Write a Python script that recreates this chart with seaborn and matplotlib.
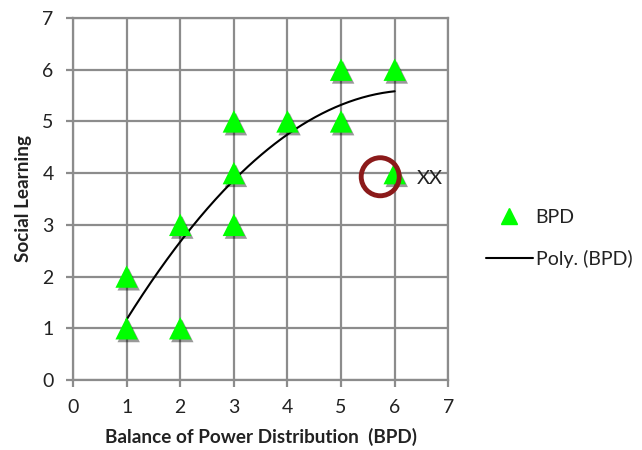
import numpy as np
import pandas as pd
import matplotlib
matplotlib.use("Agg")
import matplotlib.pyplot as plt
import matplotlib.patheffects as pe
from matplotlib.lines import Line2D
import seaborn as sns

# Data (overlapping markers at (6, 6) are repeated observations)
bpd = [1, 1, 2, 2, 3, 3, 3, 4, 5, 5, 6, 6, 6, 6]
social_learning = [1, 2, 1, 3, 3, 4, 5, 5, 5, 6, 6, 6, 6, 4]
x_ticks = [0, 1, 2, 3, 4, 5, 6, 7]
y_ticks = [0, 1, 2, 3, 4, 5, 6, 7]
circle_xy = (5.73, 3.93)
note_xy = (6.42, 3.9)
note_text = "XX"

df = pd.DataFrame({"BPD": bpd, "SL": social_learning})

sns.set_theme(style="white")
plt.rcParams['font.family'] = ['Lato', 'DejaVu Sans']

fig = plt.figure(figsize=(6.42, 4.5), dpi=100)
ax = fig.add_axes([0.1137, 0.1556, 0.5846, 0.8044])

# polynomial trendline (order 2)
coef = np.polyfit(df["BPD"], df["SL"], 2)
xs = np.linspace(min(bpd), max(bpd), 200)
trend = pd.DataFrame({"x": xs, "y": np.polyval(coef, xs)})
sns.lineplot(data=trend, x="x", y="y", ax=ax, color="black", lw=1.5, zorder=3)

sns.scatterplot(data=df.drop_duplicates(), x="BPD", y="SL", ax=ax, marker="^", s=260,
                color="#00ff00", edgecolor="none", linewidth=0, zorder=4)
for coll in ax.collections:
    coll.set_path_effects([pe.SimplePatchShadow(offset=(1.5, -2), shadow_rgbFace="black",
                                                alpha=0.4), pe.Normal()])

ax.set_xlim(0, 7)
ax.set_ylim(0, 7)
ax.set_xticks(x_ticks)
ax.set_yticks(y_ticks)
ax.grid(True, color="#8c8c8c", lw=1.6)
ax.set_axisbelow(True)
for s in ax.spines.values():
    s.set_color("#8c8c8c")
    s.set_linewidth(1.6)
ax.tick_params(axis="both", which="both", length=5, width=1.6, color="#8c8c8c",
               labelsize=14, labelcolor="#222222", direction="out", pad=9)
ax.tick_params(axis="x", bottom=True)
ax.tick_params(axis="y", left=True)
ax.set_xlabel("Balance of Power Distribution  (BPD)", fontsize=13.6, fontweight="bold",
              color="#222222", labelpad=8)
ax.set_ylabel("Social Learning", fontsize=13.6, fontweight="bold", color="#222222", labelpad=7)

# annotation circle
ax.scatter([circle_xy[0]], [circle_xy[1]], s=750, facecolors="none",
           edgecolors="#8b1a1a", linewidths=3.5, zorder=5, clip_on=False)
ax.text(note_xy[0], note_xy[1], note_text, fontsize=14.5, color="#222222",
        va="center", ha="left", clip_on=False)

# legend
handles = [Line2D([], [], marker="^", color="#00ff00", ls="none", markersize=12),
           Line2D([], [], color="black", lw=1.5)]
leg = fig.legend(handles, ["BPD", "Poly. (BPD)"], loc="center left",
                 bbox_to_anchor=(0.757, 0.47), frameon=False, fontsize=14,
                 handlelength=2.4, labelspacing=1.25, handletextpad=0.15,
                 borderaxespad=0, borderpad=0)
for t in leg.get_texts():
    t.set_color("#222222")

fig.savefig("out.png", dpi=100)
